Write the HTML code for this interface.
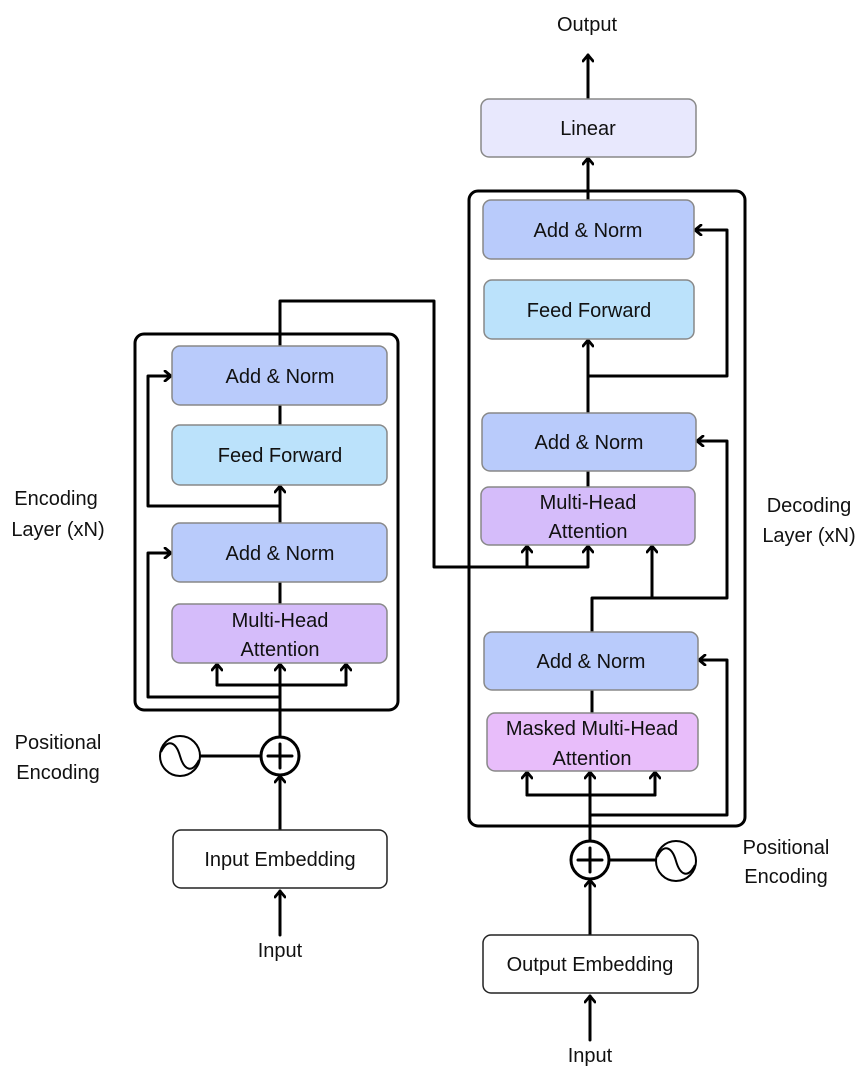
<!DOCTYPE html>
<html><head><meta charset="utf-8"><style>
html,body{margin:0;padding:0;background:#fff;}
svg{display:block}
text{font-family:"Liberation Sans",sans-serif;font-size:20px;fill:#111;text-anchor:middle;}
.b{stroke:#888;stroke-width:1.5}
.l{fill:none;stroke:#000;stroke-width:3;stroke-linejoin:round;stroke-linecap:round}
.c{fill:none;stroke:#000;stroke-width:3}
</style></head><body>
<svg width="865" height="1080" viewBox="0 0 865 1080" xmlns="http://www.w3.org/2000/svg">
<defs>
<marker id="a" viewBox="0 0 10 12" refX="8.5" refY="6" markerWidth="10" markerHeight="12" markerUnits="userSpaceOnUse" orient="auto">
<polyline points="2.5,1 8.5,6 2.5,11" fill="none" stroke="#000" stroke-width="2.8" stroke-linecap="round" stroke-linejoin="round"/>
</marker>
</defs>

<rect x="135" y="334" width="263" height="376" rx="9" class="c"/>
<rect x="469" y="191" width="276" height="635" rx="9" class="c"/>

<path class="l" d="M280 935 L280 891" marker-end="url(#a)"/>
<path class="l" d="M280 830 L280 776" marker-end="url(#a)"/>
<line class="l" x1="200" y1="756" x2="261" y2="756"/>
<path class="l" d="M280 736 L280 664" marker-end="url(#a)"/>
<path class="l" d="M217 685 L346 685"/>
<path class="l" d="M217 685 L217 664" marker-end="url(#a)"/>
<path class="l" d="M346 685 L346 664" marker-end="url(#a)"/>
<path class="l" d="M280 697 L148 697 L148 553 L171 553" marker-end="url(#a)"/>
<line class="l" x1="280" y1="582" x2="280" y2="604"/>
<path class="l" d="M280 523 L280 486" marker-end="url(#a)"/>
<path class="l" d="M280 506 L148 506 L148 376 L171 376" marker-end="url(#a)"/>
<line class="l" x1="280" y1="405" x2="280" y2="425"/>
<path class="l" d="M280 346 L280 301 L434 301 L434 567 L588 567 L588 546" marker-end="url(#a)"/>
<path class="l" d="M527 567 L527 546" marker-end="url(#a)"/>

<path class="l" d="M590 1040 L590 996" marker-end="url(#a)"/>
<path class="l" d="M590 935 L590 880" marker-end="url(#a)"/>
<line class="l" x1="609" y1="860" x2="656" y2="860"/>
<path class="l" d="M590 840 L590 772" marker-end="url(#a)"/>
<path class="l" d="M527 795 L655 795"/>
<path class="l" d="M527 795 L527 772" marker-end="url(#a)"/>
<path class="l" d="M655 795 L655 772" marker-end="url(#a)"/>
<path class="l" d="M590 815 L727 815 L727 660 L699 660" marker-end="url(#a)"/>
<line class="l" x1="592" y1="690" x2="592" y2="713"/>
<path class="l" d="M592 632 L592 598 L727 598 L727 441 L697 441" marker-end="url(#a)"/>
<path class="l" d="M652 598 L652 546" marker-end="url(#a)"/>
<line class="l" x1="588" y1="471" x2="588" y2="487"/>
<path class="l" d="M588 413 L588 340" marker-end="url(#a)"/>
<path class="l" d="M588 376 L727 376 L727 230 L695 230" marker-end="url(#a)"/>
<path class="l" d="M588 200 L588 158" marker-end="url(#a)"/>
<path class="l" d="M588 98 L588 55" marker-end="url(#a)"/>

<rect x="172" y="346" width="215" height="59" rx="8" fill="#b9cbfb" class="b"/>
<text x="280" y="383">Add &amp; Norm</text>
<rect x="172" y="425" width="215" height="60" rx="8" fill="#bbe2fb" class="b"/>
<text x="280" y="462">Feed Forward</text>
<rect x="172" y="523" width="215" height="59" rx="8" fill="#b9cbfb" class="b"/>
<text x="280" y="560">Add &amp; Norm</text>
<rect x="172" y="604" width="215" height="59" rx="8" fill="#d5bcfa" class="b"/>
<text x="280" y="627">Multi-Head</text>
<text x="280" y="656">Attention</text>
<rect x="173" y="830" width="214" height="58" rx="8" fill="#fff" stroke="#222" stroke-width="1.5"/>
<text x="280" y="866">Input Embedding</text>
<text x="280" y="957">Input</text>

<circle cx="280" cy="756" r="19" fill="#fff" stroke="#000" stroke-width="3"/>
<path class="l" d="M280 744 V768 M268 756 H292" stroke-linecap="butt"/>
<circle cx="180" cy="756" r="20" fill="#fff" stroke="#000" stroke-width="2"/>
<path d="M161 752 C168 738,176 742,180 756 C184 770,192 774,199 760" fill="none" stroke="#000" stroke-width="2"/>

<text x="58" y="749">Positional</text>
<text x="58" y="779">Encoding</text>
<text x="56" y="505">Encoding</text>
<text x="58" y="536">Layer (xN)</text>

<rect x="481" y="99" width="215" height="58" rx="8" fill="#e8e8fd" class="b"/>
<text x="588" y="135">Linear</text>
<rect x="483" y="200" width="211" height="59" rx="8" fill="#b9cbfb" class="b"/>
<text x="588" y="237">Add &amp; Norm</text>
<rect x="484" y="280" width="210" height="59" rx="8" fill="#bbe2fb" class="b"/>
<text x="589" y="317">Feed Forward</text>
<rect x="482" y="413" width="214" height="58" rx="8" fill="#b9cbfb" class="b"/>
<text x="589" y="449">Add &amp; Norm</text>
<rect x="481" y="487" width="214" height="58" rx="8" fill="#d5bcfa" class="b"/>
<text x="588" y="509">Multi-Head</text>
<text x="588" y="538">Attention</text>
<rect x="484" y="632" width="214" height="58" rx="8" fill="#b9cbfb" class="b"/>
<text x="591" y="668">Add &amp; Norm</text>
<rect x="487" y="713" width="211" height="58" rx="8" fill="#e8bdfa" class="b"/>
<text x="592" y="735">Masked Multi-Head</text>
<text x="592" y="765">Attention</text>
<rect x="483" y="935" width="215" height="58" rx="8" fill="#fff" stroke="#222" stroke-width="1.5"/>
<text x="590" y="971">Output Embedding</text>
<text x="590" y="1062">Input</text>
<text x="587" y="31">Output</text>

<circle cx="590" cy="860" r="19" fill="#fff" stroke="#000" stroke-width="3"/>
<path class="l" d="M590 848 V872 M578 860 H602" stroke-linecap="butt"/>
<circle cx="676" cy="861" r="20" fill="#fff" stroke="#000" stroke-width="2"/>
<path d="M657 857 C664 843,672 847,676 861 C680 875,688 879,695 865" fill="none" stroke="#000" stroke-width="2"/>

<text x="786" y="854">Positional</text>
<text x="786" y="883">Encoding</text>
<text x="809" y="512">Decoding</text>
<text x="809" y="542">Layer (xN)</text>
</svg>
</body></html>
